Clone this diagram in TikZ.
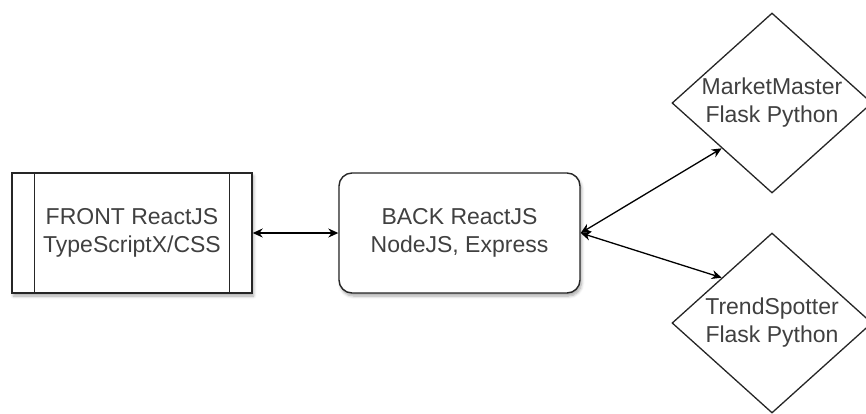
\documentclass[tikz,border=0pt]{standalone}
\usepackage{fontspec}
\setmainfont{Liberation Sans}
\usetikzlibrary{shapes.geometric,arrows.meta,shadows.blur}
\begin{document}
\begin{tikzpicture}[x=1pt,y=-1pt,
  txt/.style={font=\fontsize{23}{28}\selectfont, text=black!75, align=center},
  shad/.style={blur shadow={shadow xshift=1.5pt, shadow yshift=-3pt, shadow blur steps=6, shadow opacity=35, shadow blur radius=3pt}},
  frontbox/.style={txt, draw=black!85, line width=1.4pt, fill=white, minimum width=240pt, minimum height=120pt, inner sep=0pt, shad},
  backbox/.style={txt, draw=black!85, line width=1.4pt, fill=white, rounded corners=13pt, minimum width=241pt, minimum height=120pt, inner sep=0pt, shad},
  svc/.style={txt, diamond, draw=black!85, line width=1.3pt, fill=white, minimum width=200pt, minimum height=180pt, inner sep=0pt, aspect=1.111},
  conn/.style={line width=1.3pt, black, {Stealth[length=10pt,width=9pt]}-{Stealth[length=10pt,width=9pt]}}
]
\useasboundingbox (0,0) rectangle (866,413);
\clip (0,0) rectangle (866,413);
\node[frontbox] (front) at (132,233) {FRONT ReactJS\\TypeScriptX/CSS};
\draw[line width=1.4pt, black!85] ([xshift=23pt]front.north west) -- ([xshift=23pt]front.south west)
  ([xshift=-23pt]front.north east) -- ([xshift=-23pt]front.south east);
\node[backbox] (back) at (459.5,233) {BACK ReactJS\\NodeJS, Express};
\node[svc] (mm) at (772,103) {MarketMaster\\Flask Python};
\node[svc] (ts) at (772,323) {TrendSpotter\\Flask Python};
\draw[conn] (front.east) -- (back.west);
\draw[conn] (back.east) -- (mm.south west);
\draw[conn] (back.east) -- (ts.north west);
\end{tikzpicture}
\end{document}
